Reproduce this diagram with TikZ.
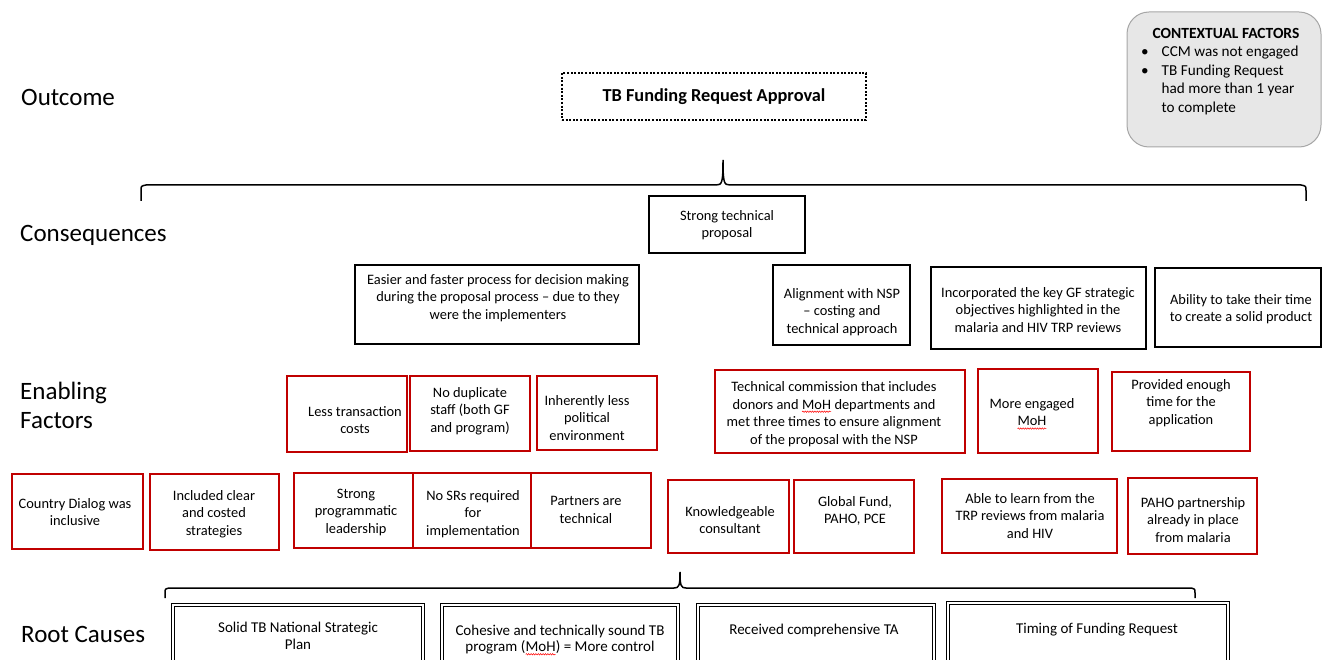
\documentclass[tikz,border=0pt]{standalone}
\usepackage{fontspec}
\setmainfont{Carlito}
\usetikzlibrary{decorations.pathmorphing}
\definecolor{tbred}{HTML}{C00000}
\definecolor{ctxfill}{HTML}{E7E7E7}
\definecolor{ctxline}{HTML}{A6A6A6}
% red spell-check wave under a word
\newcommand{\spellmark}[1]{\tikz[x=1pt,y=1pt,baseline=(sm.base)]{%
  \node[inner sep=0pt, outer sep=0pt, draw=none] (sm) {#1};%
  \draw[red, line width=0.5pt, decorate, decoration={snake, amplitude=0.7pt, segment length=2.4pt}]
    ([yshift=-2.6pt]sm.base west) -- ([yshift=-2.6pt]sm.base east);}}
% box node from its corner coordinates: style, name, x1, y1, x2, y2
\newcommand{\boxat}[6]{\node[#1, minimum width={#5-#3}, minimum height={#6-#4}] (#2) at ({(#3+#5)/2},{(#4+#6)/2}) {};}
\begin{document}
\begin{tikzpicture}[x=1pt,y=-1pt,
  lbl/.style={anchor=west, align=left, inner sep=0pt, font=\fontsize{25}{29}\selectfont},
  txt/.style={align=center, inner sep=0pt, font=\fontsize{14.4}{17.5}\selectfont},
  roottxt/.style={align=center, inner sep=0pt, font=\fontsize{15}{16.5}\selectfont},
  kbox/.style={draw=black, line width=1.8pt, inner sep=0pt},
  rbox/.style={draw=tbred, line width=2.3pt, inner sep=0pt},
  rootbox/.style={draw=black, double=white, line width=1.4pt, double distance=1.6pt, inner sep=0pt},
  outbox/.style={draw=black, line width=2.2pt, dash pattern=on 2pt off 1.6pt, inner sep=0pt},
  ctxbox/.style={draw=ctxline, fill=ctxfill, line width=1pt, rounded corners=22pt, inner sep=0pt},
  brace/.style={draw=black, line width=1.5pt}
]
\useasboundingbox (0,0) rectangle (1323,660);
\clip (0,0) rectangle (1323,660);

% level labels
\node[lbl] (l-out)  at (21,97)  {Outcome};
\node[lbl] (l-con)  at (20,235) {Consequences};
\node[lbl] (l-en)   at (20,405) {Enabling\\Factors};
\node[lbl] (l-root) at (21,634) {Root Causes};

% contextual factors
\boxat{ctxbox}{ctx}{1127}{12}{1321}{147}
\node[font=\bfseries\fontsize{15.5}{18}\selectfont, inner sep=0pt] (ctx-title) at (1226,33) {CONTEXTUAL FACTORS};
\node[anchor=north west, align=left, inner sep=0pt, font=\fontsize{15.2}{18.5}\selectfont] (ctx-list) at (1141,46)
  {\makebox[20.5pt][l]{•}CCM was not engaged\\
   \makebox[20.5pt][l]{•}TB Funding Request\\
   \hspace*{20.5pt}had more than 1 year\\
   \hspace*{20.5pt}to complete};

% outcome
\boxat{outbox}{outcome}{562}{73}{866}{120}
\node[font=\bfseries\fontsize{18.3}{21}\selectfont, inner sep=0pt] (t-outcome) at (714,97) {TB Funding Request Approval};

% upper brace
\coordinate (ub-l) at (141,201);
\coordinate (ub-t) at (723,160);
\coordinate (ub-r) at (1306,201);
\draw[brace] (ub-l) -- (141,191) .. controls (141,186) .. (146,185) -- (716,185)
  .. controls (722,185) and (723,183) .. (ub-t)
  .. controls (723,183) and (724,185) .. (730,185) -- (1301,185)
  .. controls (1306,186) .. (1306,191) -- (ub-r);

% consequences
\boxat{kbox}{c-strong}{649}{196}{805}{253}
\node[txt] (t-strong) at (727,225) {Strong technical\\proposal};
\boxat{kbox}{c-easier}{355}{265}{639}{344}
\node[txt] (t-easier) at (498,298) {Easier and faster process for decision making\\during the proposal process -- due to they\\were the implementers};
\boxat{kbox}{c-align}{773}{265}{910}{345}
\node[txt] (t-align) at (842,312) {Alignment with NSP\\-- costing and\\technical approach};
\boxat{kbox}{c-incorp}{931}{267}{1146}{349}
\node[txt] (t-incorp) at (1038,310) {Incorporated the key GF strategic\\objectives highlighted in the\\malaria and HIV TRP reviews};
\boxat{kbox}{c-time}{1155}{268}{1321}{347}
\node[txt] (t-time) at (1241,309) {Ability to take their time\\to create a solid product};

% enabling factors, upper row
\boxat{rbox}{e-less}{287}{376}{407}{452}
\node[txt] (t-less) at (355,420) {Less transaction\\costs};
\boxat{rbox}{e-dup}{410}{376}{530}{451}
\node[txt] (t-dup) at (470,411) {No duplicate\\staff (both GF\\and program)};
\boxat{rbox}{e-pol}{537}{376}{657}{450}
\node[txt] (t-pol) at (587,418) {Inherently less\\political\\environment};
\boxat{rbox}{e-comm}{715}{370}{965}{453}
\node[txt] (t-comm) at (834,414) {Technical commission that includes\\donors and \spellmark{MoH} departments and\\met three times to ensure alignment\\of the proposal with the NSP};
\boxat{rbox}{e-moh}{978}{369}{1098}{453}
\node[txt] (t-moh) at (1032,414) {More engaged\\\spellmark{MoH}};
\boxat{rbox}{e-enough}{1112}{372}{1250}{451}
\node[txt] (t-enough) at (1181,403) {Provided enough\\time for the\\application};

% enabling factors, lower row
\boxat{rbox}{e-dialog}{12}{474}{143}{549}
\node[txt] (t-dialog) at (75,512) {Country Dialog was\\inclusive};
\boxat{rbox}{e-costed}{150}{474}{279}{550}
\node[txt] (t-costed) at (214,514) {Included clear\\and costed\\strategies};
\boxat{rbox}{e-lead}{294}{473}{413}{548}
\node[txt] (t-lead) at (356,512) {Strong\\programmatic\\leadership};
\boxat{rbox}{e-srs}{413}{473}{531}{548}
\node[txt] (t-srs) at (473,514) {No SRs required\\for\\implementation};
\boxat{rbox}{e-partners}{531}{473}{651}{548}
\node[txt] (t-partners) at (586,510) {Partners are\\technical};
\boxat{rbox}{e-consult}{668}{480}{789}{553}
\node[txt] (t-consult) at (730,520) {Knowledgeable\\consultant};
\boxat{rbox}{e-gf}{794}{480}{914}{553}
\node[txt] (t-gf) at (855,511) {Global Fund,\\PAHO, PCE};
\boxat{rbox}{e-learn}{942}{479}{1117}{553}
\node[txt] (t-learn) at (1030,516) {Able to learn from the\\TRP reviews from malaria\\and HIV};
\boxat{rbox}{e-paho}{1128}{478}{1257}{554}
\node[txt] (t-paho) at (1193,520) {PAHO partnership\\already in place\\from malaria};

% lower brace
\coordinate (lb-l) at (165,598);
\coordinate (lb-t) at (680,572);
\coordinate (lb-r) at (1195,598);
\draw[brace] (lb-l) -- (165,593) .. controls (165,589) .. (169,588) -- (674,588)
  .. controls (679,588) and (680,586) .. (lb-t)
  .. controls (680,586) and (681,588) .. (686,588) -- (1191,588)
  .. controls (1195,589) .. (1195,593) -- (lb-r);

% root causes
\boxat{rootbox}{r-nsp}{173}{605}{423}{700}
\node[roottxt] (t-nsp) at (298,636) {Solid TB National Strategic\\Plan};
\boxat{rootbox}{r-prog}{442}{605}{678}{700}
\node[roottxt] (t-prog) at (560,640) {Cohesive and technically sound TB\\program (\spellmark{MoH}) = More control};
\boxat{rootbox}{r-ta}{698}{605}{934}{700}
\node[roottxt] (t-ta) at (814,630) {Received comprehensive TA};
\boxat{rootbox}{r-time}{948}{603}{1228}{700}
\node[roottxt] (t-rtime) at (1097,630) {Timing of Funding Request};
\end{tikzpicture}
\end{document}
